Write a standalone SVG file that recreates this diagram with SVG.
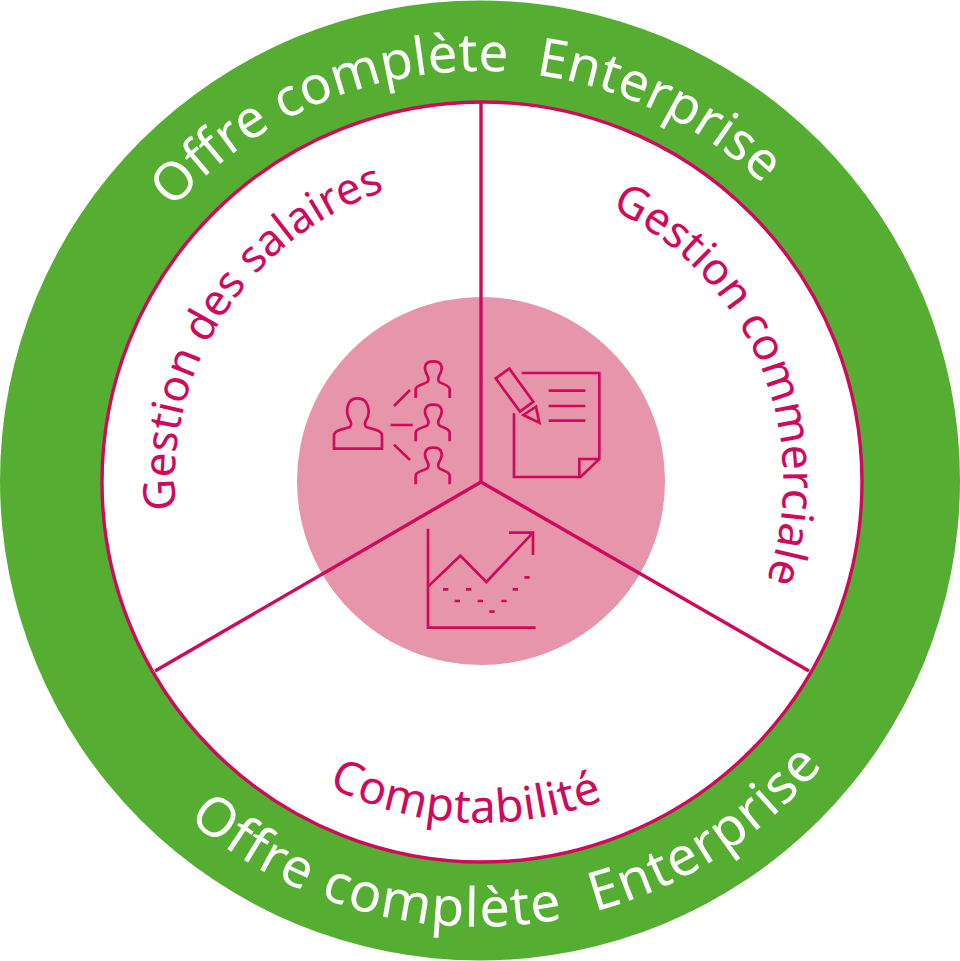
<svg xmlns="http://www.w3.org/2000/svg" width="960" height="961" viewBox="0 0 960 961">
<style>
.w{font-family:"Noto Sans","Open Sans",sans-serif;font-size:53px;fill:#fff;white-space:pre}
.r{font-family:"Noto Sans","Open Sans",sans-serif;font-size:45px;fill:#cf0a5c}
.i{fill:none;stroke:#cf0a5c;stroke-width:8}
.c{fill:none;stroke:#cf0a5c;stroke-width:3.4}
</style>
<defs>
<path id="p1" d="M173 209 A410 410 0 0 1 830 268"/>
<path id="p2" d="M188 819 A447 447 0 0 0 900 630"/>
<path id="p3" d="M176 510 A306 306 0 0 1 420 182"/>
<path id="p4" d="M611 209 A302 302 0 0 1 770 570"/>
<path id="p5" d="M328 786 A341 341 0 0 0 640 784"/>
<path id="sp" d="M287 144V118C287 105 310 104 322 96C328 90 326 84 322 76C310 55 312 34 340 34C368 34 370 55 358 76C354 84 352 90 358 96C370 104 389 105 389 118V144"/>
</defs>
<g id="offre-enterprise">
<circle cx="480" cy="480.5" r="480" fill="#55ae32"/>
<text class="w"><textPath href="#p1">Offre complète  Enterprise</textPath></text>
<text class="w" style="font-size:54px;letter-spacing:1.5px"><textPath href="#p2">Offre complète  Enterprise</textPath></text>
</g>
<g id="disc"><circle cx="482" cy="482" r="380" fill="#fff" stroke="#cf0a5c" stroke-width="3.4"/></g>
<g id="centre"><circle cx="481" cy="481" r="184" fill="#e695aa"/></g>
<g id="connectors">
<path class="c" d="M481 482V102M481 482L155 671M481 482L809 671"/>
</g>
<g id="salaires">
<text class="r" style="font-size:44px"><textPath href="#p3">Gestion des salaires</textPath></text>
<g class="i" transform="translate(320 350) scale(.3333)">
<path d="M42 296H186V256C186 240 160 238 140 232C132 226 134 216 140 208C150 190 150 145 112 145C76 145 78 190 88 208C94 216 96 226 88 232C68 238 42 240 42 256Z"/>
<use href="#sp"/><use href="#sp" y="130"/><use href="#sp" y="259"/>
<path d="M222 168L270 120M212 225H278M222 284L270 330"/>
</g>
</g>
<g id="commerciale">
<text class="r" style="font-size:44.5px"><textPath href="#p4">Gestion commerciale</textPath></text>
<g class="i" transform="translate(480 355) scale(.3333)">
<path d="M47 70L88 41L160 140L120 170Z"/>
<path d="M130 180L168 155L178 203Z"/>
<path d="M125 54H358V312L302 366H102V175"/>
<path d="M358 312H298V366"/>
<path d="M206 107H316M206 153H316M206 197H316"/>
</g>
</g>
<g id="comptabilite">
<text class="r" style="font-size:46px;letter-spacing:.6px"><textPath href="#p5">Comptabilité</textPath></text>
<g class="i" transform="translate(415 520) scale(.3333)">
<path d="M39 26V323H362"/>
<path d="M39 200L136 107L214 186L354 38M282 38H354V105"/>
<path d="M84 208H100M153 208H169M119 243H135M188 243H204M223 275H239M259 243H275M293 208H309M328 172H344"/>
</g>
</g>
</svg>
